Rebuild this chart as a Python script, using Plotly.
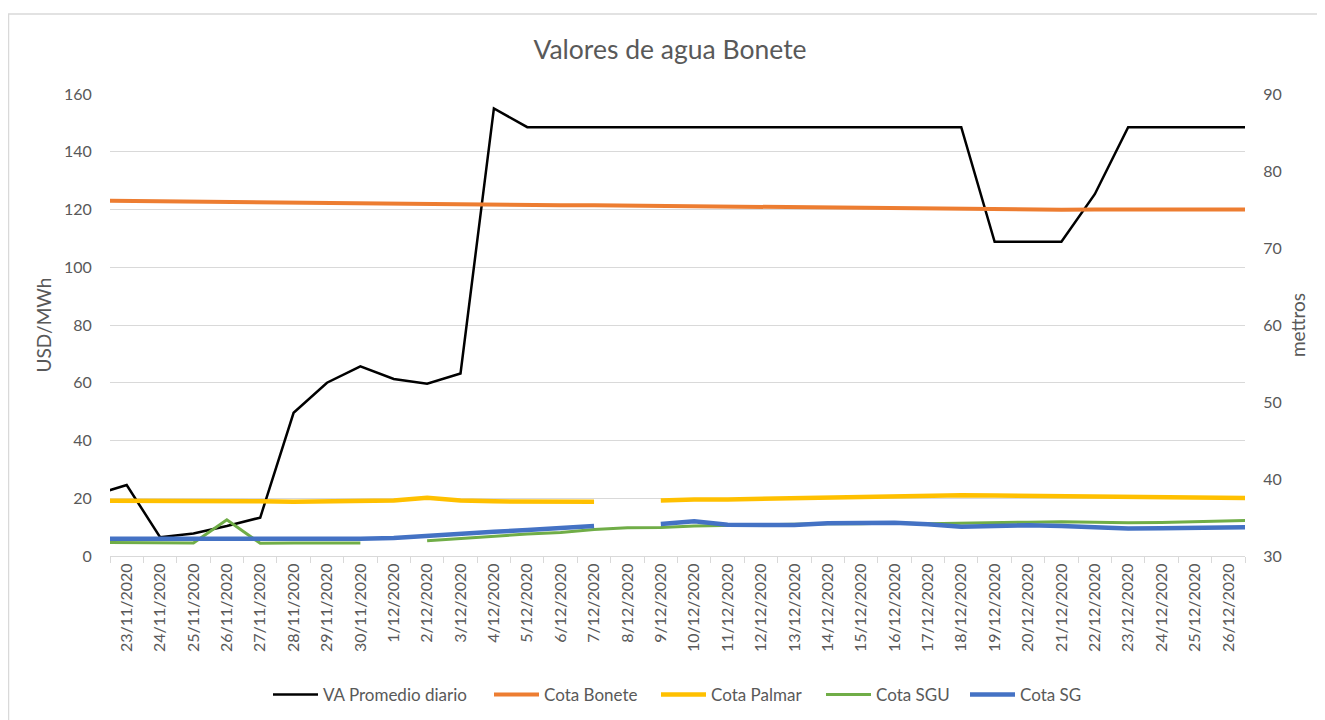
import plotly.graph_objects as go

# Categories (first and last are just outside the visible range, lines are clipped at the edges)
dates = ["22/11/2020", "23/11/2020", "24/11/2020", "25/11/2020", "26/11/2020", "27/11/2020",
         "28/11/2020", "29/11/2020", "30/11/2020", "1/12/2020", "2/12/2020", "3/12/2020",
         "4/12/2020", "5/12/2020", "6/12/2020", "7/12/2020", "8/12/2020", "9/12/2020",
         "10/12/2020", "11/12/2020", "12/12/2020", "13/12/2020", "14/12/2020", "15/12/2020",
         "16/12/2020", "17/12/2020", "18/12/2020", "19/12/2020", "20/12/2020", "21/12/2020",
         "22/12/2020", "23/12/2020", "24/12/2020", "25/12/2020", "26/12/2020", "27/12/2020"]

va_promedio = [21.0, 24.6, 6.5, 7.8, 10.4, 13.3, 49.6, 60.0, 65.7, 61.3, 59.7, 63.2,
               155.0, 148.5, 148.5, 148.5, 148.5, 148.5, 148.5, 148.5, 148.5, 148.5,
               148.5, 148.5, 148.5, 148.5, 148.5, 108.8, 108.8, 108.8, 125.3, 148.5,
               148.5, 148.5, 148.5, 148.5]

cota_bonete = [76.15, 76.1, 76.05, 76.0, 75.95, 75.9, 75.85, 75.8, 75.75, 75.7, 75.65, 75.6,
               75.55, 75.55, 75.55, 75.55, 75.5, 75.45, 75.4, 75.38, 75.33, 75.28, 75.22,
               75.18, 75.15, 75.1, 75.05, 75.0, 74.95, 74.97, 75.0, 74.97, 75.0, 74.97,
               75.0, 75.0]

cota_palmar = [37.2, 37.2, 37.2, 37.1, 37.1, 37.1, 37.05, 37.1, 37.2, 37.2, 37.55, 37.2,
               37.1, 37.1, 37.1, 37.05, None, 37.2, 37.35, 37.35, 37.43, 37.45, 37.63,
               37.68, 37.78, 37.82, 37.9, 37.85, 37.8, 37.76, 37.73, 37.69, 37.66, 37.63,
               37.56, 37.5]

cota_sgu = [31.75, 31.73, 31.76, 31.69, 34.69, 31.65, 31.7, 31.7, 31.7, None, 31.99, 32.29,
            32.59, 32.85, 33.04, 33.45, 33.68, 33.71, 33.9, 33.98, 34.01, 34.05, 34.2,
            34.2, 34.28, 34.2, 34.24, 34.35, 34.39, 34.46, 34.35, 34.31, 34.35, 34.43,
            34.58, 34.65]

cota_sg = [32.25, 32.25, 32.25, 32.25, 32.18, 32.14, 32.21, 32.21, 32.25, 32.33, 32.63,
           32.93, 33.15, 33.38, 33.64, 33.9, None, 34.16, 34.5, 34.05, 34.01, 34.01, 34.24,
           34.24, 34.31, 34.13, 33.79, 33.9, 33.98, 33.9, 33.71, 33.56, 33.6, 33.64, 33.71,
           33.75]

visible_labels = dates[1:-1]

FONT = "Lato"
GREY_TXT = "#595959"
GRID = "#d9d9d9"

W, H = 1325, 720
L, R, T, B = 102, 88, 86, 172
PW, PH = W - L - R, H - T - B

# screen x where each legend entry starts (page offset of 8 px removed below)
legend_starts = {"legend": 274, "legend2": 495, "legend3": 662, "legend4": 827, "legend5": 971}

fig = go.Figure()

fig.add_trace(go.Scatter(x=dates, y=cota_bonete, name="Cota Bonete", mode="lines",
                         line=dict(color="#ED7D31", width=4), yaxis="y2", legend="legend2"))
fig.add_trace(go.Scatter(x=dates, y=cota_palmar, name="Cota Palmar", mode="lines",
                         line=dict(color="#FFC000", width=4.5), yaxis="y2", legend="legend3"))
fig.add_trace(go.Scatter(x=dates, y=cota_sgu, name="Cota SGU", mode="lines",
                         line=dict(color="#70AD47", width=3), yaxis="y2", legend="legend4"))
fig.add_trace(go.Scatter(x=dates, y=cota_sg, name="Cota SG", mode="lines",
                         line=dict(color="#4472C4", width=4.5), yaxis="y2", legend="legend5"))
fig.add_trace(go.Scatter(x=dates, y=va_promedio, name="VA Promedio diario", mode="lines",
                         line=dict(color="#000000", width=2.5), yaxis="y", legend="legend"))

legend_style = dict(orientation="h", xanchor="left", y=(548 - 687) / PH, yanchor="middle",
                    font=dict(family=FONT, size=17, color=GREY_TXT),
                    itemwidth=45, bgcolor="rgba(0,0,0,0)")
legends = {}
for key, sx in legend_starts.items():
    legends[key] = dict(legend_style, x=(sx - 8 - 6 - L) / PW)

fig.update_layout(
    width=W, height=H,
    paper_bgcolor="white", plot_bgcolor="white",
    margin=dict(l=L, r=R, t=T, b=B),
    font=dict(family=FONT, color=GREY_TXT, size=16),
    title=dict(text="Valores de agua Bonete", x=(670 - 8) / W, xanchor="center",
               y=1 - 42 / H, yanchor="middle",
               font=dict(family=FONT, size=26.5, color=GREY_TXT)),
    showlegend=True,
    **legends,
    xaxis=dict(type="category", categoryorder="array", categoryarray=dates,
               range=[0.5, len(dates) - 1.5],
               tickvals=visible_labels, ticktext=visible_labels,
               tickson="boundaries", ticks="outside", ticklen=6, tickcolor=GRID,
               tickangle=-90, tickfont=dict(family=FONT, size=16, color=GREY_TXT),
               showgrid=False, showline=True, linecolor=GRID, linewidth=1,
               zeroline=False, automargin=False),
    yaxis=dict(range=[0, 160], dtick=20, showgrid=True, gridcolor=GRID, gridwidth=1,
               zeroline=False, showline=False, ticks="outside", ticklen=14,
               tickcolor="rgba(0,0,0,0)", automargin=False,
               tickfont=dict(family=FONT, size=16, color=GREY_TXT),
               title=dict(text="USD/MWh", standoff=7,
                          font=dict(family=FONT, size=19, color=GREY_TXT))),
    yaxis2=dict(range=[30, 90], dtick=10, overlaying="y", side="right",
                showgrid=False, zeroline=False, showline=False,
                ticks="outside", ticklen=14, tickcolor="rgba(0,0,0,0)", automargin=False,
                tickfont=dict(family=FONT, size=16, color=GREY_TXT),
                title=dict(text="mettros", standoff=10,
                           font=dict(family=FONT, size=19, color=GREY_TXT))),
    shapes=[dict(type="rect", xref="paper", yref="paper",
                 x0=(0.5 - L) / PW, x1=(W + 20 - L) / PW,
                 y0=(H - B - (H + 20)) / PH, y1=(H - B - 6) / PH,
                 line=dict(color=GRID, width=1.5), fillcolor="rgba(0,0,0,0)", layer="below")],
)

fig.write_html("out.html")
